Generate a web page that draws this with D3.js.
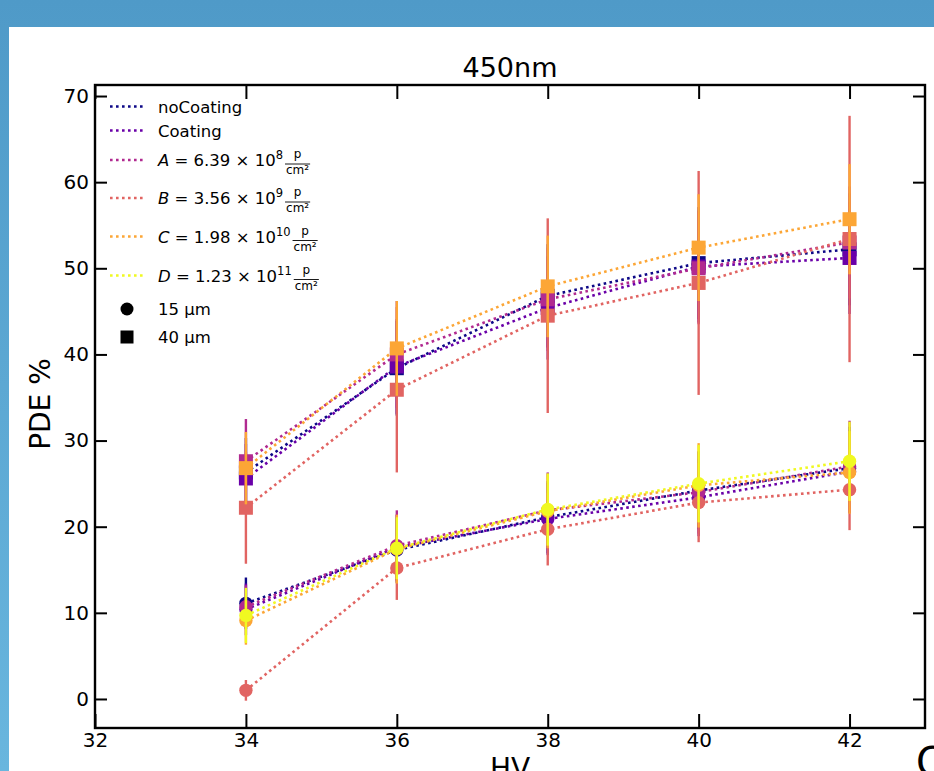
<!DOCTYPE html>
<html>
<head>
<meta charset="utf-8">
<script src="https://cdn.jsdelivr.net/npm/d3@7"></script>
<style>
  html, body { margin: 0; padding: 0; overflow: hidden; }
  text { font-family: "DejaVu Sans", sans-serif; fill: #000; }
</style>
</head>
<body>
<div id="chart"></div>
<script>
// bias voltage points
const hv = [34, 36, 38, 40, 42];

const seriesNames = ['noCoating', 'Coating', 'A', 'B', 'C', 'D'];
const seriesColors = ['#0d0887', '#6a00a8', '#b12a90', '#e16462', '#fca636', '#f0f921'];

// 15 um cells (circles)
const noCoating15 = [11.1, 17.3, 21.1, 24.2, 26.8];
const coating15 = [10.4, 17.6, 20.9, 23.4, 26.4];
const a15 = [10.7, 17.8, 21.9, 24.0, 27.0];
const b15 = [1.0, 15.2, 19.7, 22.8, 24.3];
const c15 = [9.1, 17.4, 21.8, 24.8, 26.3];
const d15 = [9.7, 17.5, 22.0, 25.0, 27.6];

const noCoating15Err = [3.0, 3.8, 4.2, 4.5, 4.8];
const coating15Err = [3.0, 3.8, 4.2, 4.5, 4.8];
const a15Err = [2.5, 4.1, 4.4, 4.8, 5.3];
const b15Err = [1.2, 3.7, 4.2, 4.6, 4.7];
const c15Err = [2.8, 4.0, 4.3, 4.9, 4.8];
const d15Err = [3.2, 3.6, 4.2, 4.5, 4.6];

// 40 um cells (squares), no D measurement
const noCoating40 = [26.3, 38.4, 46.8, 50.6, 52.2];
const coating40 = [25.6, 38.6, 45.4, 50.2, 51.2];
const a40 = [27.6, 40.0, 46.4, 50.0, 53.0];
const b40 = [22.2, 35.9, 44.5, 48.3, 53.4];
const c40 = [26.8, 40.7, 47.9, 52.4, 55.7];

const noCoating40Err = [4.0, 5.5, 6.0, 6.5, 6.5];
const coating40Err = [4.0, 5.5, 6.0, 6.5, 6.5];
const a40Err = [4.9, 6.2, 6.0, 6.5, 6.5];
const b40Err = [6.5, 9.6, 11.3, 13.0, 14.3];
const c40Err = [4.2, 5.5, 5.9, 6.2, 6.4];

// fluence legend labels
const fluenceLetters = ['A', 'B', 'C', 'D'];
const fluenceMantissa = ['6.39', '3.56', '1.98', '1.23'];
const fluenceExp = ['8', '9', '10', '11'];

const xTicks = [32, 34, 36, 38, 40, 42];
const yTicks = [0, 10, 20, 30, 40, 50, 60, 70];

const width = 934;
const height = 771;
const plot = { left: 95, right: 925, top: 85, bottom: 728 };

const svg = d3.select('#chart')
  .append('svg')
  .attr('width', width)
  .attr('height', height);

// screenshot background
const grad = svg.append('defs').append('linearGradient')
  .attr('id', 'bg').attr('x1', 0).attr('y1', 0).attr('x2', 0).attr('y2', 1);
grad.append('stop').attr('offset', '0%').attr('stop-color', '#4f9ac8');
grad.append('stop').attr('offset', '100%').attr('stop-color', '#69b6de');
svg.append('rect').attr('width', width).attr('height', height).attr('fill', 'url(#bg)');
svg.append('rect').attr('x', 9).attr('y', 27).attr('width', width - 9).attr('height', height - 27).attr('fill', '#fff');

const x = d3.scaleLinear().domain([32, 43]).range([plot.left, plot.right]);
const y = d3.scaleLinear().domain([-3.37, 71.28]).range([plot.bottom, plot.top]);

// axes, ticks pointing inward
const bottomAxis = svg.append('g')
  .attr('transform', `translate(0,${plot.bottom})`)
  .call(d3.axisBottom(x).tickValues(xTicks).tickSize(-14).tickPadding(5).tickFormat(d3.format('d')));
const topAxis = svg.append('g')
  .attr('transform', `translate(0,${plot.top})`)
  .call(d3.axisTop(x).tickValues(xTicks).tickSize(-14).tickFormat(''));
const leftAxis = svg.append('g')
  .attr('transform', `translate(${plot.left},0)`)
  .call(d3.axisLeft(y).tickValues(yTicks).tickSize(-12).tickPadding(6).tickFormat(d3.format('d')));
const rightAxis = svg.append('g')
  .attr('transform', `translate(${plot.right},0)`)
  .call(d3.axisRight(y).tickValues(yTicks).tickSize(-12).tickFormat(''));

[bottomAxis, topAxis, leftAxis, rightAxis].forEach((ax) => {
  ax.select('.domain').remove();
  ax.selectAll('.tick line').attr('stroke', '#000').attr('stroke-width', 2);
  ax.selectAll('.tick text').style('font-size', '20px').style('font-family', '"DejaVu Sans", sans-serif');
});

// data
const groups = [
  { marker: 'circle', vals: [noCoating15, coating15, a15, b15, c15, d15], errs: [noCoating15Err, coating15Err, a15Err, b15Err, c15Err, d15Err] },
  { marker: 'square', vals: [noCoating40, coating40, a40, b40, c40], errs: [noCoating40Err, coating40Err, a40Err, b40Err, c40Err] }
];

const plotArea = svg.append('g');
const line = d3.line().x((d) => x(d[0])).y((d) => y(d[1]));

seriesNames.forEach((name, si) => {
  groups.forEach((grp) => {
    const vals = grp.vals[si];
    if (!vals) return;
    const errs = grp.errs[si];
    const pts = hv.map((h, i) => [h, vals[i], errs[i]]);
    const color = seriesColors[si];
    const g = plotArea.append('g');

    g.selectAll('line.err')
      .data(pts)
      .enter()
      .append('line')
      .attr('x1', (d) => x(d[0]))
      .attr('x2', (d) => x(d[0]))
      .attr('y1', (d) => y(d[1] - d[2]))
      .attr('y2', (d) => y(d[1] + d[2]))
      .attr('stroke', color)
      .attr('stroke-width', 2.4);

    g.append('path')
      .attr('d', line(pts))
      .attr('fill', 'none')
      .attr('stroke', color)
      .attr('stroke-width', 2.6)
      .attr('stroke-dasharray', '2.6,3.4');

    if (grp.marker === 'circle') {
      g.selectAll('circle')
        .data(pts)
        .enter()
        .append('circle')
        .attr('cx', (d) => x(d[0]))
        .attr('cy', (d) => y(d[1]))
        .attr('r', 6.7)
        .attr('fill', color);
    } else {
      g.selectAll('rect')
        .data(pts)
        .enter()
        .append('rect')
        .attr('x', (d) => x(d[0]) - 7)
        .attr('y', (d) => y(d[1]) - 7)
        .attr('width', 14)
        .attr('height', 14)
        .attr('fill', color);
    }
  });
});

// frame
svg.append('rect')
  .attr('x', plot.left)
  .attr('y', plot.top)
  .attr('width', plot.right - plot.left)
  .attr('height', plot.bottom - plot.top)
  .attr('fill', 'none')
  .attr('stroke', '#000')
  .attr('stroke-width', 2.4);

// legend
const legend = svg.append('g');
const rowY = [106.5, 130.5, 160, 198, 236.5, 275.5, 309, 337];
const textX = 158;

seriesNames.forEach((name, i) => {
  legend.append('line')
    .attr('x1', 110).attr('x2', 145)
    .attr('y1', rowY[i]).attr('y2', rowY[i])
    .attr('stroke', seriesColors[i])
    .attr('stroke-width', 2.6)
    .attr('stroke-dasharray', '2.6,3.4');

  if (i < 2) {
    legend.append('text')
      .attr('x', textX).attr('y', rowY[i] + 6)
      .style('font-size', '16.5px')
      .text(name);
    return;
  }

  const k = i - 2;
  const base = rowY[i] + 6;
  const t = legend.append('text')
    .attr('x', textX).attr('y', base)
    .style('font-size', '16.5px');
  t.append('tspan').style('font-style', 'italic').text(fluenceLetters[k]);
  t.append('tspan').text(' = ' + fluenceMantissa[k] + ' \u00d7 10');
  t.append('tspan').attr('dy', -7).style('font-size', '11.5px').text(fluenceExp[k]);
  const w = t.node().getComputedTextLength();

  const fx = textX + w + 2;
  const den = legend.append('text')
    .attr('y', base + 8)
    .style('font-size', '12px')
    .text('cm\u00b2');
  const dw = den.node().getComputedTextLength();
  den.attr('x', fx + 1);
  legend.append('line')
    .attr('x1', fx).attr('x2', fx + dw + 2)
    .attr('y1', base - 2).attr('y2', base - 2)
    .attr('stroke', '#000').attr('stroke-width', 0.9);
  legend.append('text')
    .attr('x', fx + 1 + dw / 2).attr('y', base - 8)
    .attr('text-anchor', 'middle')
    .style('font-size', '12px')
    .text('p');
});

legend.append('circle').attr('cx', 127).attr('cy', rowY[6]).attr('r', 6.5).attr('fill', '#000');
legend.append('rect').attr('x', 120.5).attr('y', rowY[7] - 6.5).attr('width', 13).attr('height', 13).attr('fill', '#000');
legend.append('text').attr('x', textX).attr('y', rowY[6] + 6).style('font-size', '16.5px').text('15 \u00b5m');
legend.append('text').attr('x', textX).attr('y', rowY[7] + 6).style('font-size', '16.5px').text('40 \u00b5m');

// titles
svg.append('text')
  .attr('x', (plot.left + plot.right) / 2).attr('y', 77)
  .attr('text-anchor', 'middle')
  .style('font-size', '27px')
  .text('450nm');

svg.append('text')
  .attr('transform', `translate(50,404) rotate(-90)`)
  .attr('text-anchor', 'middle')
  .style('font-size', '28px')
  .text('PDE %');

// the screenshot cuts the axis label and a neighbouring letter at the bottom edge
svg.append('text')
  .attr('x', (plot.left + plot.right) / 2).attr('y', 778)
  .attr('text-anchor', 'middle')
  .style('font-size', '28px')
  .text('HV');

svg.append('text')
  .attr('x', 916).attr('y', 776)
  .style('font-size', '40px')
  .text('C');
</script>
</body>
</html>
